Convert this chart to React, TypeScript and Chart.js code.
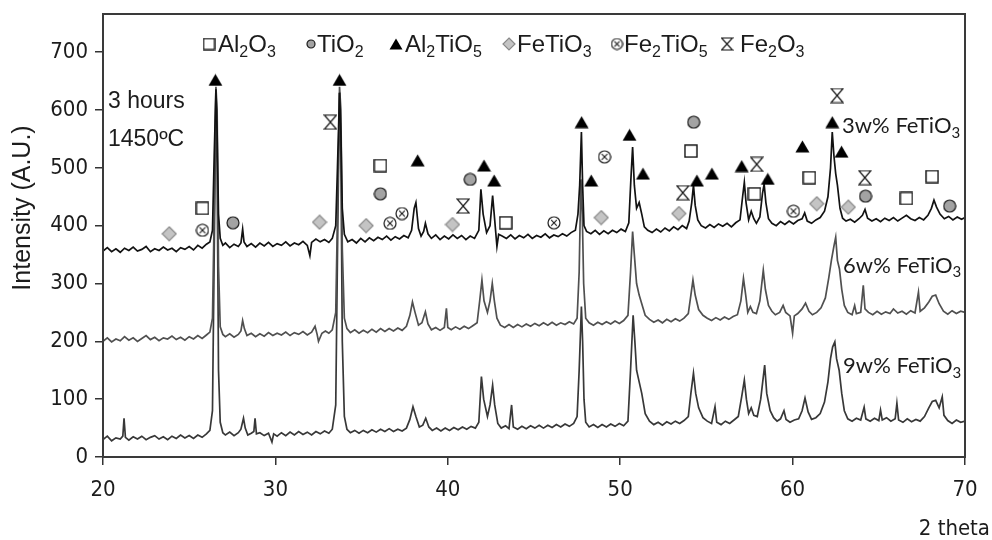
import React, { useEffect, useRef } from "react";
import { Chart, registerables } from "chart.js";

Chart.register(...registerables);

// ---------- data ----------
const thetaTicks = [20, 30, 40, 50, 60, 70];
const intensityTicks = [0, 100, 200, 300, 400, 500, 600, 700];

const trace3w: [number, number][] = [
  [20.0, 356], [20.25, 362], [20.5, 355], [20.75, 360], [21.0, 354], [21.25, 361], [21.5, 357], [21.75, 363],
  [22.0, 356], [22.25, 359], [22.5, 364], [22.75, 355], [23.0, 360], [23.25, 357], [23.5, 363], [23.75, 358],
  [24.0, 361], [24.25, 355], [24.5, 362], [24.75, 359], [25.0, 364], [25.25, 358], [25.5, 366], [25.75, 361],
  [26.0, 368], [26.2, 372], [26.35, 392], [26.45, 520], [26.55, 636], [26.62, 560], [26.7, 420], [26.8, 378],
  [26.95, 366], [27.1, 370], [27.35, 362], [27.6, 368], [27.85, 364], [28.0, 370], [28.1, 394], [28.18, 372],
  [28.35, 364], [28.6, 369], [28.85, 363], [29.1, 370], [29.35, 365], [29.6, 371], [29.85, 364], [30.1, 369],
  [30.35, 366], [30.6, 372], [30.85, 365], [31.1, 370], [31.35, 367], [31.6, 373], [31.85, 366], [32.0, 348],
  [32.1, 371], [32.35, 377], [32.6, 372], [32.85, 376], [33.1, 371], [33.3, 378], [33.5, 400], [33.6, 500],
  [33.72, 630], [33.8, 560], [33.88, 430], [34.0, 385], [34.2, 372], [34.45, 376], [34.7, 370], [34.95, 378],
  [35.2, 372], [35.45, 379], [35.7, 374], [35.95, 380], [36.2, 376], [36.45, 382], [36.7, 375], [36.95, 381],
  [37.2, 377], [37.45, 383], [37.7, 379], [37.9, 392], [38.05, 430], [38.15, 440], [38.3, 395], [38.45, 382],
  [38.6, 390], [38.7, 404], [38.85, 386], [39.05, 378], [39.3, 384], [39.55, 376], [39.8, 382], [40.05, 377],
  [40.3, 384], [40.55, 378], [40.8, 383], [41.05, 376], [41.3, 382], [41.55, 378], [41.8, 392], [41.92, 463],
  [42.05, 420], [42.25, 388], [42.45, 400], [42.6, 452], [42.72, 410], [42.85, 364], [42.95, 385], [43.15, 382],
  [43.4, 378], [43.65, 384], [43.9, 377], [44.15, 383], [44.4, 379], [44.65, 385], [44.9, 378], [45.15, 383],
  [45.4, 380], [45.65, 386], [45.9, 379], [46.15, 384], [46.4, 381], [46.65, 386], [46.9, 382], [47.15, 388],
  [47.4, 392], [47.55, 420], [47.65, 470], [47.75, 562], [47.82, 470], [47.9, 400], [48.05, 390], [48.3, 386],
  [48.55, 392], [48.8, 385], [49.05, 391], [49.3, 386], [49.55, 392], [49.8, 388], [50.05, 394], [50.3, 390],
  [50.5, 405], [50.62, 480], [50.72, 536], [50.82, 470], [50.95, 430], [51.1, 440], [51.25, 420], [51.4, 398],
  [51.6, 392], [51.85, 388], [52.1, 394], [52.35, 389], [52.6, 396], [52.85, 391], [53.1, 398], [53.35, 393],
  [53.6, 400], [53.85, 395], [54.0, 408], [54.15, 440], [54.25, 470], [54.35, 435], [54.5, 410], [54.7, 400],
  [54.95, 396], [55.2, 402], [55.45, 397], [55.7, 403], [55.95, 399], [56.2, 404], [56.45, 398], [56.7, 405],
  [56.95, 410], [57.1, 450], [57.2, 475], [57.3, 440], [57.45, 410], [57.6, 425], [57.75, 412], [57.9, 404],
  [58.1, 415], [58.25, 455], [58.35, 472], [58.45, 440], [58.6, 412], [58.8, 404], [59.05, 400], [59.3, 407],
  [59.55, 402], [59.8, 408], [60.05, 403], [60.3, 409], [60.55, 412], [60.7, 422], [60.85, 408], [61.1, 404],
  [61.35, 410], [61.6, 414], [61.85, 425], [62.05, 450], [62.2, 500], [62.3, 562], [62.4, 520], [62.5, 490],
  [62.6, 470], [62.75, 430], [62.9, 413], [63.1, 408], [63.35, 411], [63.6, 406], [63.85, 412], [64.05, 418],
  [64.2, 428], [64.35, 413], [64.6, 408], [64.85, 412], [65.1, 407], [65.35, 413], [65.6, 409], [65.85, 414],
  [66.1, 408], [66.35, 413], [66.6, 418], [66.85, 412], [67.1, 409], [67.35, 414], [67.6, 410], [67.85, 418],
  [68.05, 430], [68.2, 444], [68.35, 432], [68.55, 420], [68.8, 412], [69.05, 416], [69.3, 410], [69.55, 415],
  [69.8, 411], [70.0, 414],
];

const trace6w: [number, number][] = [
  [20.0, 200], [20.25, 206], [20.5, 199], [20.75, 204], [21.0, 201], [21.25, 208], [21.5, 202], [21.75, 206],
  [22.0, 200], [22.25, 205], [22.5, 210], [22.75, 203], [23.0, 207], [23.25, 201], [23.5, 206], [23.75, 204],
  [24.0, 209], [24.25, 203], [24.5, 207], [24.75, 202], [25.0, 208], [25.25, 204], [25.5, 210], [25.75, 205],
  [26.0, 211], [26.2, 216], [26.35, 240], [26.45, 420], [26.55, 640], [26.62, 600], [26.7, 330], [26.8, 225],
  [26.95, 212], [27.1, 208], [27.35, 213], [27.6, 207], [27.85, 212], [28.0, 218], [28.1, 236], [28.2, 222],
  [28.35, 210], [28.6, 214], [28.85, 208], [29.1, 213], [29.35, 209], [29.6, 215], [29.85, 210], [30.1, 214],
  [30.35, 211], [30.6, 216], [30.85, 210], [31.1, 215], [31.35, 212], [31.6, 217], [31.85, 211], [32.1, 216],
  [32.3, 226], [32.42, 212], [32.5, 200], [32.7, 214], [32.9, 218], [33.1, 214], [33.3, 220], [33.5, 250],
  [33.62, 450], [33.72, 640], [33.8, 600], [33.88, 360], [34.0, 240], [34.15, 222], [34.35, 215], [34.6, 220],
  [34.85, 214], [35.1, 219], [35.35, 215], [35.6, 221], [35.85, 216], [36.1, 222], [36.35, 217], [36.6, 222],
  [36.85, 218], [37.1, 223], [37.35, 219], [37.6, 226], [37.8, 245], [37.95, 268], [38.1, 250], [38.3, 228],
  [38.5, 232], [38.7, 251], [38.85, 230], [39.05, 220], [39.3, 224], [39.55, 219], [39.8, 224], [39.92, 257],
  [40.0, 224], [40.2, 220], [40.45, 225], [40.7, 221], [40.95, 226], [41.2, 222], [41.45, 227], [41.7, 232],
  [41.85, 270], [41.98, 306], [42.1, 270], [42.3, 250], [42.45, 270], [42.58, 300], [42.7, 270], [42.85, 240],
  [43.05, 228], [43.3, 224], [43.55, 229], [43.8, 224], [44.05, 229], [44.3, 225], [44.55, 230], [44.8, 226],
  [45.05, 231], [45.3, 227], [45.55, 232], [45.8, 228], [46.05, 233], [46.3, 228], [46.55, 232], [46.8, 229],
  [47.05, 234], [47.3, 230], [47.5, 240], [47.62, 320], [47.72, 480], [47.8, 420], [47.88, 300], [48.0, 240],
  [48.2, 232], [48.45, 228], [48.7, 233], [48.95, 229], [49.2, 234], [49.45, 230], [49.7, 235], [49.95, 231],
  [50.2, 236], [50.45, 245], [50.6, 320], [50.72, 390], [50.82, 350], [50.95, 300], [51.1, 280], [51.25, 265],
  [51.45, 245], [51.7, 238], [51.95, 233], [52.2, 237], [52.45, 232], [52.7, 238], [52.95, 234], [53.2, 239],
  [53.45, 235], [53.7, 240], [53.95, 248], [54.1, 280], [54.22, 306], [54.35, 280], [54.55, 255], [54.8, 245],
  [55.05, 240], [55.3, 236], [55.55, 241], [55.8, 237], [56.05, 242], [56.3, 238], [56.55, 243], [56.8, 246],
  [57.0, 270], [57.15, 309], [57.28, 280], [57.4, 250], [57.55, 260], [57.7, 250], [57.9, 248], [58.1, 270],
  [58.3, 323], [58.42, 290], [58.6, 262], [58.8, 252], [59.0, 246], [59.25, 250], [59.45, 262], [59.6, 250],
  [59.85, 244], [60.0, 214], [60.1, 244], [60.3, 248], [60.55, 256], [60.75, 266], [60.95, 252], [61.15, 246],
  [61.4, 250], [61.65, 258], [61.9, 275], [62.1, 310], [62.25, 340], [62.4, 365], [62.5, 380], [62.6, 340],
  [62.72, 325], [62.85, 290], [63.0, 262], [63.2, 250], [63.45, 246], [63.6, 262], [63.7, 248], [63.95, 250],
  [64.1, 297], [64.2, 256], [64.4, 250], [64.65, 246], [64.9, 252], [65.15, 247], [65.4, 251], [65.65, 248],
  [65.85, 256], [66.1, 249], [66.35, 252], [66.6, 247], [66.85, 253], [67.1, 249], [67.3, 285], [67.4, 252],
  [67.65, 258], [67.9, 268], [68.1, 278], [68.3, 280], [68.5, 265], [68.75, 252], [69.0, 247], [69.25, 253],
  [69.5, 248], [69.75, 252], [70.0, 250],
];

const trace9w: [number, number][] = [
  [20.0, 30], [20.25, 36], [20.5, 28], [20.75, 33], [21.0, 31], [21.15, 36], [21.22, 67], [21.3, 34],
  [21.5, 29], [21.75, 35], [22.0, 31], [22.25, 36], [22.5, 30], [22.75, 34], [23.0, 37], [23.25, 31],
  [23.5, 35], [23.75, 30], [24.0, 36], [24.25, 32], [24.5, 38], [24.75, 33], [25.0, 37], [25.25, 32],
  [25.5, 38], [25.75, 34], [26.0, 40], [26.2, 46], [26.35, 80], [26.45, 350], [26.55, 630], [26.62, 500],
  [26.7, 150], [26.8, 60], [26.95, 42], [27.1, 38], [27.35, 43], [27.6, 37], [27.85, 42], [28.0, 48],
  [28.15, 67], [28.25, 50], [28.4, 38], [28.6, 41], [28.75, 44], [28.82, 67], [28.9, 40], [29.1, 42],
  [29.35, 37], [29.6, 41], [29.8, 26], [29.9, 40], [30.1, 36], [30.35, 42], [30.6, 37], [30.85, 43],
  [31.1, 38], [31.35, 44], [31.6, 39], [31.85, 43], [32.1, 38], [32.35, 44], [32.6, 40], [32.85, 45],
  [33.1, 41], [33.3, 48], [33.5, 90], [33.62, 400], [33.72, 630], [33.8, 520], [33.88, 200], [34.0, 70],
  [34.15, 48], [34.35, 42], [34.6, 46], [34.85, 41], [35.1, 46], [35.35, 42], [35.6, 47], [35.85, 43],
  [36.1, 48], [36.35, 44], [36.6, 49], [36.85, 44], [37.1, 48], [37.35, 45], [37.6, 50], [37.8, 65],
  [37.98, 87], [38.15, 70], [38.35, 52], [38.55, 55], [38.72, 67], [38.9, 52], [39.1, 46], [39.35, 50],
  [39.6, 45], [39.85, 50], [40.1, 46], [40.35, 51], [40.6, 47], [40.85, 52], [41.1, 48], [41.35, 53],
  [41.6, 50], [41.8, 60], [41.95, 139], [42.08, 100], [42.3, 70], [42.45, 90], [42.6, 124], [42.72, 90],
  [42.9, 58], [43.1, 50], [43.35, 54], [43.55, 49], [43.7, 90], [43.8, 52], [44.05, 48], [44.3, 53],
  [44.55, 49], [44.8, 54], [45.05, 50], [45.3, 55], [45.55, 50], [45.8, 55], [46.05, 51], [46.3, 56],
  [46.55, 52], [46.8, 57], [47.05, 53], [47.3, 58], [47.5, 70], [47.62, 150], [47.75, 260], [47.82, 200],
  [47.9, 100], [48.0, 60], [48.2, 52], [48.45, 56], [48.7, 51], [48.95, 56], [49.2, 52], [49.45, 57],
  [49.7, 53], [49.95, 58], [50.2, 54], [50.45, 62], [50.6, 150], [50.75, 245], [50.85, 200], [50.95, 150],
  [51.1, 130], [51.25, 110], [51.45, 75], [51.7, 62], [51.95, 56], [52.2, 60], [52.45, 55], [52.7, 61],
  [52.95, 57], [53.2, 62], [53.45, 58], [53.7, 63], [53.95, 70], [54.1, 110], [54.25, 145], [54.38, 110],
  [54.55, 85], [54.8, 68], [55.05, 62], [55.3, 58], [55.5, 87], [55.6, 60], [55.85, 56], [56.1, 62],
  [56.35, 58], [56.6, 64], [56.85, 70], [57.05, 105], [57.2, 133], [57.32, 100], [57.45, 75], [57.6, 85],
  [57.75, 72], [57.95, 70], [58.15, 100], [58.38, 159], [58.5, 110], [58.7, 80], [58.9, 68], [59.1, 62],
  [59.3, 66], [59.5, 80], [59.62, 65], [59.85, 60], [60.1, 64], [60.35, 66], [60.55, 80], [60.72, 102],
  [60.9, 78], [61.1, 65], [61.35, 68], [61.6, 75], [61.85, 95], [62.05, 130], [62.2, 170], [62.32, 190],
  [62.45, 199], [62.55, 170], [62.7, 150], [62.85, 110], [63.0, 80], [63.2, 66], [63.45, 62], [63.7, 67],
  [63.95, 64], [64.15, 86], [64.25, 66], [64.5, 62], [64.75, 67], [65.0, 63], [65.1, 81], [65.2, 64],
  [65.45, 68], [65.7, 62], [65.95, 66], [66.05, 93], [66.15, 64], [66.4, 60], [66.65, 66], [66.9, 61],
  [67.15, 65], [67.4, 62], [67.65, 70], [67.9, 85], [68.1, 96], [68.3, 98], [68.5, 85], [68.68, 104],
  [68.78, 72], [69.0, 63], [69.25, 58], [69.5, 64], [69.75, 60], [70.0, 62],
];

// phase markers [2theta, intensity]
const al2o3Marks: [number, number][] = [
  [25.77, 430], [36.09, 504], [43.36, 405], [54.1, 529], [57.79, 455], [60.97, 483], [66.6, 447], [68.09, 485],
];
const tio2Marks: [number, number][] = [
  [27.54, 405], [36.09, 455], [41.3, 480], [54.26, 579], [64.23, 451], [69.11, 434],
];
const al2tio5Marks: [number, number][] = [
  [26.52, 652], [33.72, 652], [38.25, 513], [42.1, 504], [42.69, 478], [47.76, 579], [48.32, 478], [50.54, 557],
  [51.32, 490], [54.45, 478], [55.32, 490], [57.05, 503], [58.56, 481], [60.57, 537], [62.3, 579], [62.84, 528],
];
const fetio3Marks: [number, number][] = [
  [23.84, 386], [32.56, 406], [35.26, 400], [40.27, 402], [48.9, 414], [53.4, 421], [61.4, 438], [63.23, 432],
];
const fe2tio5Marks: [number, number][] = [
  [25.77, 392], [36.65, 404], [37.34, 421], [46.16, 405], [49.09, 519], [60.05, 425],
];
const fe2o3Marks: [number, number][] = [
  [33.19, 579], [40.89, 434], [53.63, 457], [57.92, 506], [62.58, 625], [64.19, 483],
];

// text: [piece, isSubscript]
type Rich = [string, boolean][];
const legendLabels: { glyph: string; label: Rich }[] = [
  { glyph: "square", label: [["Al", false], ["2", true], ["O", false], ["3", true]] },
  { glyph: "circle", label: [["TiO", false], ["2", true]] },
  { glyph: "triangle", label: [["Al", false], ["2", true], ["TiO", false], ["5", true]] },
  { glyph: "diamond", label: [["FeTiO", false], ["3", true]] },
  { glyph: "crossCircle", label: [["Fe", false], ["2", true], ["TiO", false], ["5", true]] },
  { glyph: "hourglass", label: [["Fe", false], ["2", true], ["O", false], ["3", true]] },
];
const seriesNotes: { label: Rich; theta: number; intensity: number }[] = [
  { label: [["3w% FeTiO", false], ["3", true]], theta: 62.87, intensity: 560 },
  { label: [["6w% FeTiO", false], ["3", true]], theta: 62.93, intensity: 318 },
  { label: [["9w% FeTiO", false], ["3", true]], theta: 62.93, intensity: 145 },
];
const conditionNotes: { text: string; theta: number; intensity: number }[] = [
  { text: "3 hours", theta: 20.29, intensity: 603 },
  { text: "1450ºC", theta: 20.29, intensity: 537 },
];

// ---------- layout / style ----------
const W = 992;
const H = 540;
const PLOT_LEFT = 103;
const PLOT_RIGHT = 965;
const PLOT_TOP = 14;
const PLOT_BOTTOM = 457;
const NARROW = '"Liberation Sans Narrow", "Arial Narrow", "DejaVu Sans Condensed", sans-serif';
const REGULAR = '"Liberation Sans", Arial, sans-serif';
const NOTE_FONT = 'Lato, "Open Sans", sans-serif';
const TEXT = "#1c1c1c";

const legendLayout = [
  { glyphX: 209, textX: 218 },
  { glyphX: 311, textX: 317 },
  { glyphX: 396, textX: 405 },
  { glyphX: 509, textX: 517 },
  { glyphX: 617, textX: 624 },
  { glyphX: 727, textX: 740 },
];

function makeGlyph(kind: string, scale: number): HTMLCanvasElement {
  const c = document.createElement("canvas");
  const s = scale;
  const sizes: Record<string, [number, number]> = {
    square: [14, 14],
    circle: [14, 14],
    triangle: [15, 13],
    diamond: [16, 16],
    crossCircle: [14, 14],
    hourglass: [14, 16],
  };
  const [w0, h0] = sizes[kind];
  const w = Math.round(w0 * s);
  const h = Math.round(h0 * s);
  c.width = w;
  c.height = h;
  const g = c.getContext("2d")!;
  g.lineJoin = "miter";
  if (kind === "square") {
    g.fillStyle = "#ffffff";
    g.strokeStyle = "#111";
    g.lineWidth = 1.4;
    g.fillRect(1, 1, w - 2, h - 2);
    g.strokeRect(1, 1, w - 2, h - 2);
  } else if (kind === "circle") {
    g.fillStyle = "#a3a3a3";
    g.strokeStyle = "#1a1a1a";
    g.lineWidth = 1.2;
    g.beginPath();
    g.arc(w / 2, h / 2, w / 2 - 1, 0, Math.PI * 2);
    g.fill();
    g.stroke();
  } else if (kind === "triangle") {
    g.fillStyle = "#000";
    g.beginPath();
    g.moveTo(w / 2, 0.5);
    g.lineTo(w - 0.5, h - 0.5);
    g.lineTo(0.5, h - 0.5);
    g.closePath();
    g.fill();
  } else if (kind === "diamond") {
    g.fillStyle = "#c4c4c4";
    g.strokeStyle = "#8a8a8a";
    g.lineWidth = 1.2;
    g.beginPath();
    g.moveTo(w / 2, 1);
    g.lineTo(w - 1, h / 2);
    g.lineTo(w / 2, h - 1);
    g.lineTo(1, h / 2);
    g.closePath();
    g.fill();
    g.stroke();
  } else if (kind === "crossCircle") {
    g.fillStyle = "#ffffff";
    g.strokeStyle = "#1a1a1a";
    g.lineWidth = 1.2;
    g.beginPath();
    g.arc(w / 2, h / 2, w / 2 - 1, 0, Math.PI * 2);
    g.fill();
    g.stroke();
    const r = w * 0.2;
    g.lineWidth = 1.1;
    g.beginPath();
    g.moveTo(w / 2 - r, h / 2 - r);
    g.lineTo(w / 2 + r, h / 2 + r);
    g.moveTo(w / 2 + r, h / 2 - r);
    g.lineTo(w / 2 - r, h / 2 + r);
    g.stroke();
  } else if (kind === "hourglass") {
    g.fillStyle = "#ffffff";
    g.strokeStyle = "#111";
    g.lineWidth = 1.2;
    g.beginPath();
    g.moveTo(1, 1);
    g.lineTo(w - 1, 1);
    g.lineTo(1, h - 1);
    g.lineTo(w - 1, h - 1);
    g.closePath();
    g.fill();
    g.stroke();
  }
  return c;
}

function drawRich(
  ctx: CanvasRenderingContext2D,
  parts: Rich,
  x: number,
  y: number,
  size: number,
  family: string
) {
  let cx = x;
  for (const [t, sub] of parts) {
    const fs = sub ? Math.round(size * 0.66) : size;
    ctx.font = `${fs}px ${family}`;
    ctx.fillText(t, cx, sub ? y + size * 0.2 : y);
    cx += ctx.measureText(t).width;
  }
}

export default function App() {
  const ref = useRef<HTMLCanvasElement | null>(null);

  useEffect(() => {
    const canvas = ref.current;
    if (!canvas) return;
    const glyphs: Record<string, HTMLCanvasElement> = {};
    const legendGlyphs: Record<string, HTMLCanvasElement> = {};
    for (const k of ["square", "circle", "triangle", "diamond", "crossCircle", "hourglass"]) {
      glyphs[k] = makeGlyph(k, 1);
      legendGlyphs[k] = makeGlyph(k, 0.9);
    }
    legendGlyphs["circle"] = makeGlyph("circle", 0.7);

    const toXY = (arr: [number, number][]) => arr.map(([x, y]) => ({ x, y }));
    const markerSet = (label: string, arr: [number, number][], glyph: string) => ({
      label,
      data: toXY(arr),
      showLine: false,
      pointStyle: glyphs[glyph] as any,
      pointRadius: 7,
      pointHoverRadius: 7,
    });
    const traceSet = (label: string, arr: [number, number][], color: string) => ({
      label,
      data: toXY(arr),
      showLine: true,
      borderColor: color,
      borderWidth: 1.7,
      pointRadius: 0,
      pointHoverRadius: 0,
      tension: 0,
    });

    const overlay = {
      id: "overlay",
      afterDraw(chart: any) {
        const ctx: CanvasRenderingContext2D = chart.ctx;
        const { left, top, right, bottom } = chart.chartArea;
        const xs = chart.scales.x;
        const ys = chart.scales.y;
        ctx.save();
        // plot frame
        ctx.strokeStyle = "#3a3a3a";
        ctx.lineWidth = 2;
        ctx.strokeRect(left, top, right - left, bottom - top);
        ctx.fillStyle = TEXT;
        ctx.textBaseline = "alphabetic";
        ctx.textAlign = "left";
        // legend
        legendLabels.forEach((item, i) => {
          const lay = legendLayout[i];
          const img = legendGlyphs[item.glyph];
          ctx.drawImage(img, lay.glyphX - img.width / 2, 44 - img.height / 2);
          drawRich(ctx, item.label, lay.textX, 52, 24, REGULAR);
        });
        // condition notes
        ctx.font = `23px ${REGULAR}`;
        conditionNotes.forEach((n) => {
          ctx.fillText(n.text, xs.getPixelForValue(n.theta), ys.getPixelForValue(n.intensity));
        });
        // series notes
        seriesNotes.forEach((n) => {
          drawRich(ctx, n.label, xs.getPixelForValue(n.theta), ys.getPixelForValue(n.intensity), 22, NOTE_FONT);
        });
        // axis titles
        ctx.font = `22px ${NARROW}`;
        ctx.textAlign = "right";
        ctx.fillText("2 theta", 990, 535);
        ctx.save();
        ctx.translate(30, 208);
        ctx.rotate(-Math.PI / 2);
        ctx.textAlign = "center";
        ctx.font = `25px ${REGULAR}`;
        ctx.fillText("Intensity (A.U.)", 0, 0);
        ctx.restore();
        ctx.restore();
      },
    };

    const chart = new Chart(canvas, {
      type: "scatter",
      data: {
        datasets: [
          markerSet("Al2O3", al2o3Marks, "square"),
          markerSet("TiO2", tio2Marks, "circle"),
          markerSet("Al2TiO5", al2tio5Marks, "triangle"),
          markerSet("FeTiO3", fetio3Marks, "diamond"),
          markerSet("Fe2TiO5", fe2tio5Marks, "crossCircle"),
          markerSet("Fe2O3", fe2o3Marks, "hourglass"),
          traceSet("3w% FeTiO3", trace3w, "#121212"),
          traceSet("6w% FeTiO3", trace6w, "#505050"),
          traceSet("9w% FeTiO3", trace9w, "#383838"),
        ] as any,
      },
      options: {
        animation: false,
        responsive: false,
        devicePixelRatio: 1,
        events: [],
        layout: { padding: { left: 0, top: PLOT_TOP, right: W - PLOT_RIGHT, bottom: 0 } },
        plugins: { legend: { display: false }, tooltip: { enabled: false } },
        scales: {
          x: {
            type: "linear",
            min: 20,
            max: 70,
            afterBuildTicks: (s: any) => {
              s.ticks = thetaTicks.map((v) => ({ value: v }));
            },
            afterFit: (s: any) => {
              s.height = H - PLOT_BOTTOM;
              s.paddingLeft = 0;
              s.paddingRight = 0;
            },
            grid: { drawOnChartArea: false, drawTicks: true, tickLength: 8, color: "#333", lineWidth: 1.5 },
            border: { display: true, color: "#222", width: 1.5 },
            ticks: { color: TEXT, padding: 12, font: { family: NARROW, size: 22 }, maxRotation: 0 },
          },
          y: {
            type: "linear",
            min: 0,
            max: 766,
            afterBuildTicks: (s: any) => {
              s.ticks = intensityTicks.map((v) => ({ value: v }));
            },
            afterFit: (s: any) => {
              s.width = PLOT_LEFT;
              s.paddingTop = 0;
              s.paddingBottom = 0;
            },
            grid: { drawOnChartArea: false, drawTicks: true, tickLength: 8, color: "#333", lineWidth: 1.5 },
            border: { display: true, color: "#111", width: 1.5 },
            ticks: { color: TEXT, padding: 7, font: { family: NARROW, size: 22 } },
          },
        },
      },
      plugins: [overlay],
    });
    return () => chart.destroy();
  }, []);

  return (
    <div style={{ position: "fixed", left: 0, top: 0, width: W, height: H, background: "#fff" }}>
      <canvas ref={ref} width={W} height={H} style={{ display: "block" }} />
    </div>
  );
}
